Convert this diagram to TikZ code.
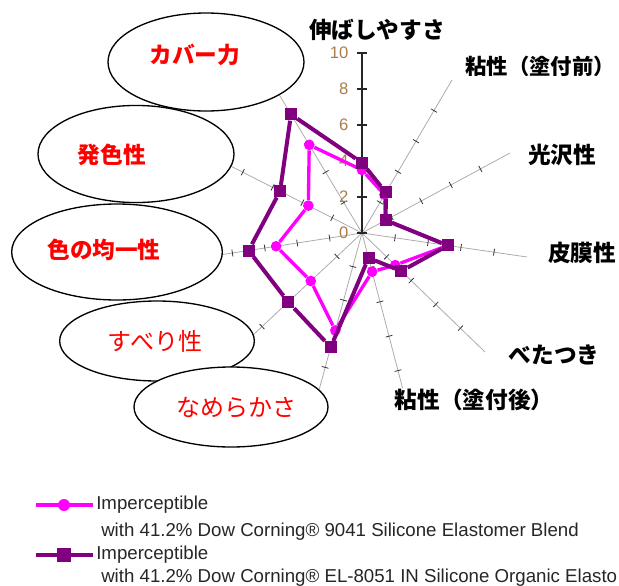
\documentclass[tikz,border=0pt]{standalone}
\usepackage{fontspec}
\setmainfont{Liberation Sans}
\newfontfamily\jp{Noto Sans CJK JP}
\usetikzlibrary{calc, positioning, shapes.geometric}
\definecolor{pur}{RGB}{128,0,128}
\definecolor{mag}{RGB}{255,0,255}
\definecolor{numc}{RGB}{170,125,75}
\tikzset{
  spoke/.style = {draw=gray!65, line width=0.6pt},
  tk/.style = {draw=gray!40!black, line width=0.6pt},
  pmark/.style = {rectangle, fill=pur, minimum size=9pt, inner sep=0pt},
  mmark/.style = {circle, fill=mag, minimum size=8pt, inner sep=0pt},
  pline/.style = {draw=pur, line width=3pt, line join=round},
  mline/.style = {draw=mag, line width=2.5pt, line join=round},
  bubble/.style = {ellipse, draw=black, fill=white, line width=1pt,
    inner sep=0pt},
  redlbl/.style = {font=\jp\bfseries\fontsize{17}{20}\selectfont, text=red},
  thinlbl/.style = {font=\jp\fontsize{18}{21}\selectfont, text=red},
  lbl/.style = {font=\jp\bfseries\fontsize{17}{20}\selectfont, fill=white,
    inner sep=1pt},
  num/.style = {font=\fontsize{12.5}{14}\selectfont, text=numc, anchor=east,
    inner sep=0pt},
  leg/.style = {font=\fontsize{14}{16}\selectfont, text=black!85,
    anchor=west, inner sep=0pt}
}

\begin{document}
\begin{tikzpicture}[x=0.75pt, y=-0.75pt]
\useasboundingbox (0,0) rectangle (619,586);
\coordinate (c) at (362,233);
\coordinate (a1) at (362,53);
\coordinate (a2) at (452,80);
\coordinate (a3) at (510,153);
\coordinate (a4) at (527,257);
\coordinate (a5) at (485,352);
\coordinate (a6) at (407,405);
\coordinate (a7) at (316,401);
\coordinate (a8) at (237,350);
\coordinate (a9) at (200,258);
\coordinate (a10) at (213,157);
\coordinate (a11) at (271,81);

\foreach \i in {2,...,11} {
  \draw[spoke] (c) -- (a\i);
  \foreach \t in {2,4,...,10} {
    \coordinate (q) at ($(c)!\t/10!(a\i)$);
    \draw[tk] ($(q)!2.6pt!90:(a\i)$) -- ($(q)!2.6pt!-90:(a\i)$);
  }
}
\draw[black!85, line width=1.2pt] (c) -- (a1);
\foreach \t in {0,2,...,10} {
  \coordinate (q) at ($(c)!\t/10!(a1)$);
  \draw[black!85, line width=1pt] ([xshift=-3.8pt]q) -- ([xshift=3.8pt]q);
  \node[num] (n\t) at ([xshift=-10pt]q) {\t};
}

% magenta series
\foreach \v [count=\i] in {3.5,2.5,1.6,5.2,2.7,2.25,5.8,4.1,5.3,3.6,5.8}
  \node[mmark] (m\i) at ($(c)!\v/10!(a\i)$) {};
\draw[mline] (m1) -- (m2) -- (m3) -- (m4) -- (m5) -- (m6) -- (m7) -- (m8)
  -- (m9) -- (m10) -- (m11) -- (m1);
% purple series
\foreach \v [count=\i] in {3.9,2.65,1.6,5.2,3.2,1.45,6.8,5.9,7.0,5.5,7.8}
  \node[pmark] (p\i) at ($(c)!\v/10!(a\i)$) {};
\draw[pline] (p1) -- (p2) -- (p3) -- (p4) -- (p5) -- (p6) -- (p7) -- (p8)
  -- (p9) -- (p10) -- (p11) -- (p1);

\node[bubble, minimum width=147pt, minimum height=73.5pt] (e1) at (206,62) {};
\node[redlbl] (r1) at (195,55) {カバー力};
\node[bubble, minimum width=147pt, minimum height=72.8pt] (e2) at (136,154) {};
\node[redlbl] (r2) at (112,155) {発色性};
\node[bubble, minimum width=158pt, minimum height=72pt] (e3) at (117,252) {};
\node[redlbl] (r3) at (104,250) {色の均一性};
\node[bubble, minimum width=146pt, minimum height=60pt] (e4) at (157,341) {};
\node[thinlbl] (r4) at (155,341) {すべり性};
\node[bubble, minimum width=145.5pt, minimum height=60pt] (e5) at (231,407) {};
\node[thinlbl] (r5) at (236,408) {なめらかさ};

\node[lbl] (l1) at (377,30) {伸ばしやすさ};
\node[lbl, font=\jp\bfseries\fontsize{16}{19}\selectfont] (l2) at (540,66) {粘性（塗付前）};
\node[lbl] (l3) at (562,155) {光沢性};
\node[lbl] (l4) at (582,253) {皮膜性};
\node[lbl] (l5) at (554,355) {べたつき};
\node[lbl] (l6) at (474,400) {粘性（塗付後）};

% legend
\coordinate (g1a) at (36,505);
\coordinate (g1b) at (93,505);
\draw[mag, line width=2.6pt] (g1a) -- (g1b);
\node[mmark, minimum size=9pt] (g1) at (64,505) {};
\node[leg] (t1) at (96,505) {Imperceptible};
\node[leg] (t2) at (101,532) {with 41.2\% Dow Corning® 9041 Silicone Elastomer Blend};
\coordinate (g2a) at (36,555);
\coordinate (g2b) at (93,555);
\draw[pur, line width=3.6pt] (g2a) -- (g2b);
\node[pmark, minimum size=10.5pt] (g2) at (64,555) {};
\node[leg] (t3) at (96,555) {Imperceptible};
\node[leg] (t4) at (101,578) {with 41.2\% Dow Corning® EL-8051 IN Silicone Organic Elasto};
\end{tikzpicture}
\end{document}
